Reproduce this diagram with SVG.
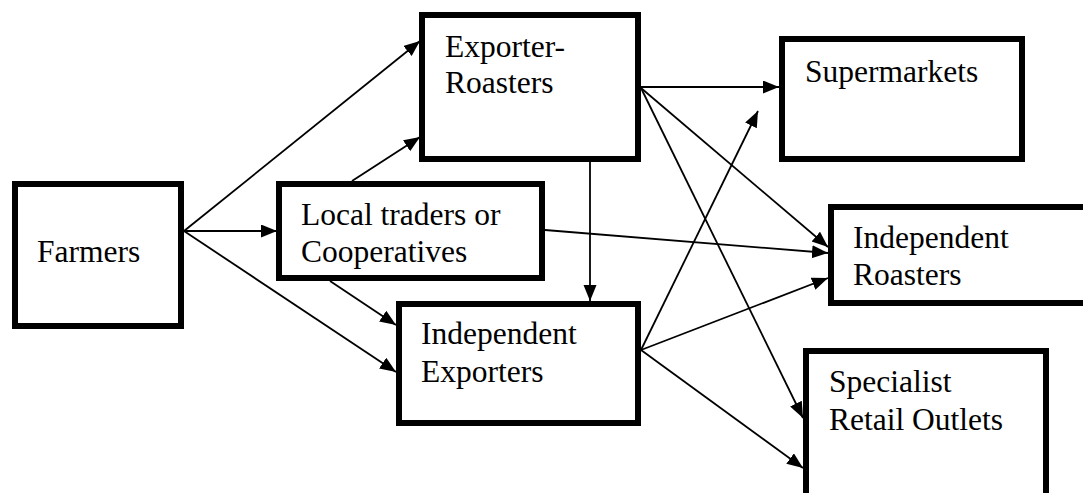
<svg xmlns="http://www.w3.org/2000/svg" width="1083" height="493" viewBox="0 0 1083 493">
<style>
.box{fill:#fff;stroke:#000;stroke-width:6}
.t{font-family:'Liberation Serif','Times New Roman',Times,serif;font-size:31.5px;fill:#000}
.c{stroke:#000;stroke-width:1.8;fill:none;marker-end:url(#ah)}
</style>
<defs>
<marker id="ah" markerUnits="userSpaceOnUse" markerWidth="17" markerHeight="14" refX="16" refY="6.5" orient="auto">
<path d="M0,0 L16,6.5 L0,13 Z" fill="#000"/>
</marker>
</defs>
<rect width="1083" height="493" fill="#fff"/>
<g id="connectors">
<line class="c" x1="184" y1="231" x2="420" y2="41"/>
<line class="c" x1="184" y1="231" x2="277" y2="231"/>
<line class="c" x1="184" y1="231" x2="396" y2="372"/>
<line class="c" x1="352" y1="181" x2="420" y2="137"/>
<line class="c" x1="330" y1="281" x2="396" y2="325"/>
<line class="c" x1="545" y1="230" x2="828" y2="253"/>
<line class="c" x1="590" y1="162" x2="590" y2="301"/>
<line class="c" x1="641" y1="87" x2="779" y2="87"/>
<line class="c" x1="641" y1="88" x2="828" y2="247"/>
<line class="c" x1="641" y1="88" x2="803" y2="418"/>
<line class="c" x1="641" y1="350" x2="758" y2="111"/>
<line class="c" x1="641" y1="350" x2="828" y2="278"/>
<line class="c" x1="641" y1="350" x2="803" y2="468"/>
</g>
<g id="farmers">
<rect class="box" x="15" y="184" width="166" height="142"/>
<text class="t" font-family="Liberation Serif, serif" x="37" y="262">Farmers</text>
</g>
<g id="local">
<rect class="box" x="279" y="184" width="263" height="94"/>
<text class="t" x="301" y="225">Local traders or</text>
<text class="t" x="301" y="262">Cooperatives</text>
</g>
<g id="exporter-roasters">
<rect class="box" x="422" y="15" width="216" height="144"/>
<text class="t" x="445" y="57">Exporter-</text>
<text class="t" x="445" y="93">Roasters</text>
</g>
<g id="supermarkets">
<rect class="box" x="782" y="39" width="240" height="120"/>
<text class="t" x="805" y="82">Supermarkets</text>
</g>
<g id="independent-roasters">
<rect class="box" x="831" y="207" width="270" height="96"/>
<text class="t" x="853" y="248">Independent</text>
<text class="t" x="853" y="285">Roasters</text>
</g>
<g id="independent-exporters">
<rect class="box" x="399" y="304" width="239" height="119"/>
<text class="t" x="421" y="344">Independent</text>
<text class="t" x="421" y="382">Exporters</text>
</g>
<g id="specialist">
<rect class="box" x="806" y="351" width="240" height="160"/>
<text class="t" x="829" y="392">Specialist</text>
<text class="t" x="829" y="430">Retail Outlets</text>
</g>
</svg>
